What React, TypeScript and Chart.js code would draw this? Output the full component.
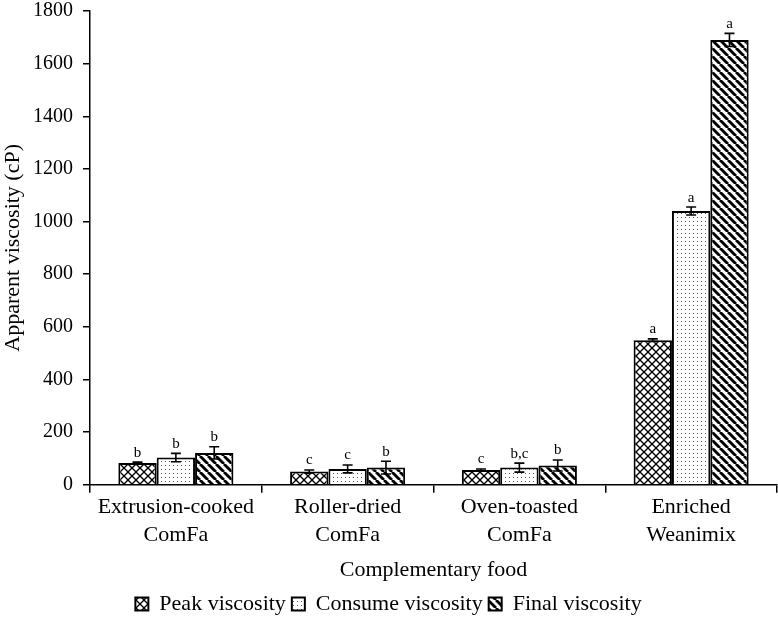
import React, { useEffect, useRef } from "react";
import { Chart, registerables } from "chart.js";

Chart.register(...registerables);

const categories: string[][] = [
  ["Extrusion-cooked", "ComFa"],
  ["Roller-dried", "ComFa"],
  ["Oven-toasted", "ComFa"],
  ["Enriched", "Weanimix"],
];
const seriesNames = ["Peak viscosity", "Consume viscosity", "Final viscosity"];
const peakValues = [83, 50, 56, 549];
const consumeValues = [103, 60, 65, 1040];
const finalValues = [121, 65, 73, 1690];
const peakErrors = [3, 6, 4, 5];
const consumeErrors = [16, 15, 17, 15];
const finalErrors = [23, 24, 21, 25];
const peakLetters = ["b", "c", "c", "a"];
const consumeLetters = ["b", "c", "b,c", "a"];
const finalLetters = ["b", "b", "b", "a"];
const yTicks = [0, 200, 400, 600, 800, 1000, 1200, 1400, 1600, 1800];

const FONT = "'Liberation Serif', 'Times New Roman', serif";

function makePattern(kind: string): CanvasPattern | string {
  const c = document.createElement("canvas");
  const s = kind === "dots" ? 4 : 8;
  c.width = s;
  c.height = s;
  const g = c.getContext("2d")!;
  g.fillStyle = "#fff";
  g.fillRect(0, 0, s, s);
  g.strokeStyle = "#000";
  if (kind === "cross") {
    g.lineWidth = 1.3;
    for (const off of [-s, 0, s]) {
      g.beginPath();
      g.moveTo(off, 0);
      g.lineTo(off + s, s);
      g.stroke();
      g.beginPath();
      g.moveTo(off + s, 0);
      g.lineTo(off, s);
      g.stroke();
    }
  } else if (kind === "stripes") {
    g.lineWidth = 2.8;
    for (const off of [-s, 0, s]) {
      g.beginPath();
      g.moveTo(off, 0);
      g.lineTo(off + s, s);
      g.stroke();
    }
  } else {
    g.fillStyle = "#555";
    g.fillRect(1, 1, 1, 1);
  }
  return g.createPattern(c, "repeat") || "#fff";
}

const errorPlugin = {
  id: "errorLetters",
  afterDatasetsDraw(chart: any) {
    const ctx = chart.ctx;
    const y = chart.scales.y;
    const errs = [peakErrors, consumeErrors, finalErrors];
    const letters = [peakLetters, consumeLetters, finalLetters];
    chart.data.datasets.forEach((ds: any, di: number) => {
      const meta = chart.getDatasetMeta(di);
      meta.data.forEach((bar: any, i: number) => {
        const v = ds.data[i] as number;
        const e = errs[di][i];
        const x = bar.x;
        const yTop = y.getPixelForValue(v + e);
        const yBot = y.getPixelForValue(v - e);
        ctx.save();
        ctx.strokeStyle = "#000";
        ctx.lineWidth = 1.6;
        ctx.beginPath();
        ctx.moveTo(x, yTop);
        ctx.lineTo(x, yBot);
        ctx.moveTo(x - 5, yTop);
        ctx.lineTo(x + 5, yTop);
        ctx.moveTo(x - 5, yBot);
        ctx.lineTo(x + 5, yBot);
        ctx.stroke();
        ctx.fillStyle = "#000";
        ctx.font = `15px ${FONT}`;
        ctx.textAlign = "center";
        ctx.textBaseline = "bottom";
        ctx.fillText(letters[di][i], x, yTop - 2);
        ctx.restore();
      });
    });
  },
};

export default function App() {
  const ref = useRef<HTMLCanvasElement>(null);
  useEffect(() => {
    document.body.style.margin = "0";
    const patterns = [makePattern("cross"), makePattern("dots"), makePattern("stripes")];
    const values = [peakValues, consumeValues, finalValues];
    const chart = new Chart(ref.current!, {
      type: "bar",
      data: {
        labels: categories,
        datasets: seriesNames.map((name, i) => ({
          label: name,
          data: values[i],
          backgroundColor: patterns[i] as any,
          borderColor: "#000",
          borderWidth: 2,
          borderSkipped: "bottom",
          categoryPercentage: 0.67,
          barPercentage: 1.0,
        })),
      },
      options: {
        animation: false,
        responsive: false,
        layout: { padding: { top: 0, right: 1, left: 0, bottom: -8 } },
        plugins: {
          tooltip: { enabled: false },
          legend: {
            position: "bottom",
            labels: {
              color: "#000",
              font: { family: FONT, size: 22 },
              boxWidth: 13,
              boxHeight: 13,
              padding: 6,
            },
          },
        },
        scales: {
          x: {
            border: { color: "#000", width: 1.5 },
            grid: { drawOnChartArea: false, drawTicks: true, tickLength: 8, color: "#000", lineWidth: 1.5 },
            ticks: {
              color: "#000",
              font: { family: FONT, size: 22, lineHeight: 1.27 },
              padding: 1,
              maxRotation: 0,
            },
            title: {
              display: true,
              text: "Complementary food",
              color: "#000",
              font: { family: FONT, size: 22 },
              padding: { top: 6, bottom: 4 },
            },
          },
          y: {
            min: 0,
            max: 1800,
            afterBuildTicks: (axis: any) => {
              axis.ticks = yTicks.map((v) => ({ value: v }));
            },
            afterFit: (axis: any) => {
              axis.width = 90;
              axis.paddingTop = 11;
              axis.paddingBottom = 0;
            },
            border: { color: "#000", width: 1.5 },
            grid: { drawOnChartArea: false, drawTicks: true, tickLength: 7, color: "#000", lineWidth: 1.5 },
            ticks: {
              color: "#000",
              font: { family: FONT, size: 20 },
              padding: 10,
              callback: (v: any) => String(v),
            },
            title: {
              display: true,
              text: "Apparent viscosity (cP)",
              color: "#000",
              font: { family: FONT, size: 22 },
              padding: { top: 0, bottom: 2 },
            },
          },
        },
      },
      plugins: [errorPlugin],
    });
    return () => chart.destroy();
  }, []);
  return (
    <div style={{ width: 778, height: 617 }}>
      <canvas ref={ref} width={778} height={617} style={{ display: "block" }} />
    </div>
  );
}
